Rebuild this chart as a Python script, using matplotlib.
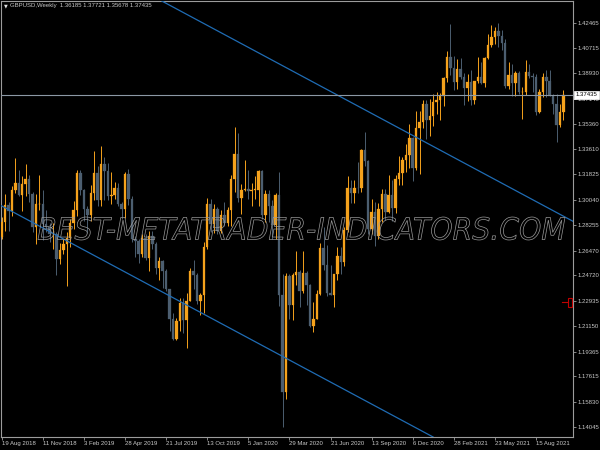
import matplotlib
matplotlib.use("Agg")
import matplotlib.pyplot as plt
from matplotlib.patches import PathPatch, Rectangle
from matplotlib.textpath import TextPath
from matplotlib.font_manager import FontProperties
from matplotlib.transforms import Affine2D, blended_transform_factory

# --- GBPUSD weekly, 19 Aug 2018 .. 10 Oct 2021 ------------------------------
OPEN = [
    1.2745, 1.2850, 1.2966, 1.2925, 1.3070, 1.3120, 1.3040, 1.3118, 1.3152, 1.3042,
    1.2811, 1.2971, 1.2973, 1.2836, 1.2809, 1.2760, 1.2765, 1.2585, 1.2650, 1.2690,
    1.2737, 1.2840, 1.2930, 1.3194, 1.3075, 1.2942, 1.2896, 1.3048, 1.3195, 1.3004,
    1.3258, 1.3204, 1.3032, 1.3035, 1.3088, 1.2975, 1.2938, 1.3183, 1.3007, 1.2725,
    1.2716, 1.2622, 1.2735, 1.2596, 1.2746, 1.2693, 1.2523, 1.2573, 1.2502, 1.2376,
    1.2164, 1.2026, 1.2154, 1.2280, 1.2158, 1.2290, 1.2502, 1.2475, 1.2290, 1.2333,
    1.2670, 1.2975, 1.2834, 1.2940, 1.2782, 1.2898, 1.2839, 1.2935, 1.3149, 1.3325,
    1.3014, 1.3074, 1.3083, 1.3066, 1.3074, 1.3076, 1.3204, 1.2897, 1.3045, 1.2960,
    1.2823, 1.3040, 1.2334, 1.1650, 1.2469, 1.2263, 1.2478, 1.2495, 1.2366, 1.2492,
    1.2403, 1.2118, 1.2164, 1.2344, 1.2667, 1.2544, 1.2345, 1.2337, 1.2481, 1.2612,
    1.2565, 1.2794, 1.3086, 1.3053, 1.3088, 1.3086, 1.3354, 1.3277, 1.2797, 1.2918,
    1.2747, 1.2940, 1.3047, 1.2917, 1.3036, 1.2944, 1.3152, 1.3190, 1.3283, 1.3322,
    1.3438, 1.3224, 1.3506, 1.3551, 1.3675, 1.3565, 1.3595, 1.3688, 1.3703, 1.3735,
    1.3858, 1.4008, 1.3927, 1.3831, 1.3924, 1.3865, 1.3790, 1.3833, 1.3707, 1.3836,
    1.3868, 1.3827, 1.3999, 1.4093, 1.4150, 1.4192, 1.4157, 1.4109, 1.3801, 1.3880,
    1.3823, 1.3892, 1.3760, 1.3762, 1.3902, 1.3876, 1.3869, 1.3620, 1.3761, 1.3866,
    1.3841, 1.3735, 1.3675, 1.3530, 1.36185,
]
HIGH = [
    1.2880, 1.3043, 1.2985, 1.3100, 1.3298, 1.3215, 1.3170, 1.3257, 1.3175, 1.3060,
    1.3042, 1.3176, 1.3074, 1.2930, 1.2840, 1.2840, 1.2780, 1.2700, 1.2730, 1.2780,
    1.2867, 1.2993, 1.3216, 1.3216, 1.3080, 1.2960, 1.3109, 1.3350, 1.3240, 1.3381,
    1.3305, 1.3262, 1.3197, 1.3132, 1.3120, 1.2990, 1.3200, 1.3220, 1.3030, 1.2750,
    1.2730, 1.2763, 1.2763, 1.2784, 1.2784, 1.2710, 1.2600, 1.2580, 1.2520, 1.2380,
    1.2206, 1.2175, 1.2310, 1.2311, 1.2349, 1.2526, 1.2582, 1.2490, 1.2350, 1.2708,
    1.3013, 1.3012, 1.2976, 1.2955, 1.2930, 1.2985, 1.2954, 1.3177, 1.3514, 1.3475,
    1.3115, 1.3284, 1.3215, 1.3119, 1.3173, 1.3215, 1.3210, 1.3070, 1.3070, 1.3000,
    1.3050, 1.3200, 1.2485, 1.2486, 1.2485, 1.2487, 1.2647, 1.2510, 1.2643, 1.2500,
    1.2415, 1.2283, 1.2373, 1.2697, 1.2813, 1.2688, 1.2542, 1.2485, 1.2669, 1.2670,
    1.2810, 1.3170, 1.3143, 1.3143, 1.3267, 1.3363, 1.3482, 1.3280, 1.3007, 1.2990,
    1.2983, 1.3083, 1.3082, 1.3177, 1.3140, 1.3177, 1.3313, 1.3308, 1.3398, 1.3540,
    1.3444, 1.3625, 1.3625, 1.3704, 1.3704, 1.3712, 1.3745, 1.3758, 1.3756, 1.3866,
    1.4050, 1.4241, 1.4015, 1.3990, 1.4000, 1.3895, 1.3890, 1.3919, 1.3840, 1.4009,
    1.3975, 1.4006, 1.4167, 1.4234, 1.4219, 1.4250, 1.4200, 1.4135, 1.3975, 1.3960,
    1.3910, 1.3909, 1.3797, 1.3984, 1.3958, 1.3896, 1.3890, 1.3785, 1.3892, 1.3913,
    1.3913, 1.3750, 1.3749, 1.3674, 1.37721,
]
LOW = [
    1.2726, 1.2785, 1.2786, 1.2887, 1.3050, 1.3030, 1.2922, 1.3030, 1.2985, 1.2780,
    1.2696, 1.2934, 1.2723, 1.2776, 1.2706, 1.2659, 1.2477, 1.2550, 1.2620, 1.2395,
    1.2670, 1.2800, 1.2890, 1.3040, 1.2852, 1.2773, 1.2855, 1.3005, 1.2961, 1.2960,
    1.3005, 1.3004, 1.2977, 1.3010, 1.2957, 1.2866, 1.2875, 1.2970, 1.2710, 1.2605,
    1.2558, 1.2600, 1.2580, 1.2506, 1.2658, 1.2480, 1.2439, 1.2382, 1.2360, 1.2080,
    1.2015, 1.2015, 1.2080, 1.2070, 1.1959, 1.2290, 1.2380, 1.2270, 1.2195, 1.2205,
    1.2660, 1.2780, 1.2770, 1.2765, 1.2768, 1.2820, 1.2820, 1.2820, 1.3060, 1.2985,
    1.2905, 1.3068, 1.3012, 1.2960, 1.3010, 1.2960, 1.2870, 1.2850, 1.2848, 1.2725,
    1.2725, 1.2260, 1.1409, 1.1600, 1.2167, 1.2160, 1.2405, 1.2247, 1.2350, 1.2266,
    1.2110, 1.2075, 1.2163, 1.2335, 1.2510, 1.2330, 1.2333, 1.2252, 1.2440, 1.2480,
    1.2540, 1.2780, 1.2982, 1.2981, 1.3050, 1.3060, 1.3240, 1.2762, 1.2764, 1.2676,
    1.2730, 1.2845, 1.2864, 1.2914, 1.2854, 1.2914, 1.3105, 1.3110, 1.3197, 1.3225,
    1.3134, 1.3215, 1.3188, 1.3510, 1.3429, 1.3450, 1.3520, 1.3610, 1.3566, 1.3660,
    1.3835, 1.3880, 1.3775, 1.3780, 1.3850, 1.3670, 1.3700, 1.3670, 1.3680, 1.3825,
    1.3820, 1.3800, 1.3990, 1.4080, 1.4100, 1.4080, 1.4060, 1.3787, 1.3786, 1.3733,
    1.3731, 1.3748, 1.3572, 1.3740, 1.3860, 1.3760, 1.3602, 1.3615, 1.3727, 1.3727,
    1.3730, 1.3609, 1.3412, 1.3512, 1.35678,
]
CLOSE = [
    1.2850, 1.2966, 1.2925, 1.3070, 1.3120, 1.3040, 1.3118, 1.3152, 1.3042, 1.2811,
    1.2971, 1.2973, 1.2836, 1.2809, 1.2760, 1.2765, 1.2585, 1.2650, 1.2690, 1.2737,
    1.2840, 1.2930, 1.3194, 1.3075, 1.2942, 1.2896, 1.3048, 1.3195, 1.3004, 1.3258,
    1.3204, 1.3032, 1.3035, 1.3088, 1.2975, 1.2938, 1.3183, 1.3007, 1.2725, 1.2716,
    1.2622, 1.2735, 1.2596, 1.2746, 1.2693, 1.2523, 1.2573, 1.2502, 1.2376, 1.2164,
    1.2026, 1.2154, 1.2280, 1.2158, 1.2290, 1.2502, 1.2475, 1.2290, 1.2333, 1.2670,
    1.2975, 1.2834, 1.2940, 1.2782, 1.2898, 1.2839, 1.2935, 1.3149, 1.3325, 1.3014,
    1.3074, 1.3083, 1.3066, 1.3074, 1.3076, 1.3204, 1.2897, 1.3045, 1.2960, 1.2823,
    1.3040, 1.2334, 1.1650, 1.2469, 1.2263, 1.2478, 1.2495, 1.2366, 1.2492, 1.2403,
    1.2118, 1.2164, 1.2344, 1.2667, 1.2544, 1.2345, 1.2337, 1.2481, 1.2612, 1.2565,
    1.2794, 1.3086, 1.3053, 1.3088, 1.3086, 1.3354, 1.3277, 1.2797, 1.2918, 1.2747,
    1.2940, 1.3047, 1.2917, 1.3036, 1.2944, 1.3152, 1.3190, 1.3283, 1.3322, 1.3438,
    1.3224, 1.3506, 1.3551, 1.3675, 1.3565, 1.3595, 1.3688, 1.3703, 1.3735, 1.3858,
    1.4008, 1.3927, 1.3831, 1.3924, 1.3865, 1.3790, 1.3833, 1.3707, 1.3836, 1.3868,
    1.3827, 1.3999, 1.4093, 1.4150, 1.4192, 1.4157, 1.4109, 1.3801, 1.3880, 1.3823,
    1.3892, 1.3760, 1.3762, 1.3902, 1.3876, 1.3869, 1.3620, 1.3761, 1.3866, 1.3841,
    1.3735, 1.3675, 1.3530, 1.36185, 1.37435,
]

DATE_POS = [0, 12, 24, 36, 48, 60, 72, 84, 96, 108, 120, 132, 144, 156]
DATE_LABELS = ["19 Aug 2018", "11 Nov 2018", "3 Feb 2019", "28 Apr 2019", "21 Jul 2019",
               "13 Oct 2019", "5 Jan 2020", "29 Mar 2020", "21 Jun 2020", "13 Sep 2020",
               "6 Dec 2020", "28 Feb 2021", "23 May 2021", "15 Aug 2021"]
PRICE_TICKS = [1.42465, 1.40715, 1.38930, 1.37145, 1.35360, 1.33610, 1.31825, 1.30040,
               1.28255, 1.26470, 1.24720, 1.22935, 1.21150, 1.19365, 1.17615, 1.15830,
               1.14045]

# channel trendlines: two anchors each (bar index, price)
UPPER_LINE = [(47.0, 1.43979), (166.8, 1.28524)]
LOWER_LINE = [(-0.5, 1.29670), (126.5, 1.13290)]
LAST_PRICE = 1.37435
TITLE = "GBPUSD,Weekly  1.36185 1.37721 1.35678 1.37435"
WATERMARK = "BEST-METATRADER-INDICATORS.COM"

BG = "#000000"
BULL = "#f5a21c"
BEAR = "#4c5e70"
FRAME = "#9c9c9c"
TXT = "#c8c8c8"
CHANNEL = "#1f6cb4"
FONT = ["Liberation Sans", "DejaVu Sans"]

W, H = 600, 450


def px(x, y):
    """pixel (from top-left) -> figure fraction"""
    return x / W, 1 - y / H


fig = plt.figure(figsize=(6, 4.5), dpi=100)
fig.patch.set_facecolor(BG)
ax = fig.add_axes([1 / W, 13 / H, 572 / W, 436 / H])
ax.set_facecolor(BG)
ax.set_xlim(-0.204, 166.8)
ax.set_ylim(1.13361, 1.44012)

# candles
idx = list(range(len(CLOSE)))
cols = [BULL if c >= o else BEAR for o, c in zip(OPEN, CLOSE)]
ax.vlines(idx, LOW, HIGH, colors=cols, lw=0.7, zorder=2)
bottoms = [min(o, c) for o, c in zip(OPEN, CLOSE)]
heights = [max(abs(c - o), 0.0003) for o, c in zip(OPEN, CLOSE)]
ax.bar(idx, heights, bottom=bottoms, width=0.72, color=cols, edgecolor=cols,
       lw=0.2, zorder=3)

# channel + last price line
for (a, b) in (UPPER_LINE, LOWER_LINE):
    ax.axline(a, b, color=CHANNEL, lw=0.9, zorder=4)
ax.axhline(LAST_PRICE, color="#8c98a4", lw=0.8, zorder=4)

# axes, ticks
for s in ax.spines.values():
    s.set_color(FRAME)
    s.set_linewidth(0.8)
ax.yaxis.tick_right()
ax.set_yticks(PRICE_TICKS)
ax.set_yticklabels([f"{p:.5f}" for p in PRICE_TICKS])
ax.set_xticks(DATE_POS)
ax.set_xticklabels(DATE_LABELS)
ax.tick_params(colors=FRAME, labelcolor=TXT, labelsize=4.3, length=2.2, width=0.6,
               pad=1.0)
for lab in ax.get_xticklabels():
    lab.set_horizontalalignment("left")
    lab.set_family(FONT)
for lab in ax.get_yticklabels():
    lab.set_family(FONT)

# current price tag on the scale
tr = blended_transform_factory(ax.transAxes, ax.transData)
ax.text(1.004, LAST_PRICE, "1.37435", transform=tr, ha="left", va="center",
        fontsize=4.3, family=FONT, color="#000000", clip_on=False, zorder=6,
        bbox=dict(boxstyle="square,pad=0.25", fc="#ffffff", ec="#ffffff", lw=0.5))

# small red level marker at the right edge
ax.add_patch(Rectangle((165.2, 1.2250), 1.3, 0.0064, fc="none", ec="#c00000", lw=0.8,
                       zorder=6, clip_on=False))
ax.plot([163.7, 165.2], [1.2282, 1.2282], color="#c00000", lw=0.8, zorder=6)

# header
fig.text(*px(4, 6), "\u25bc", color="#e0e0e0", fontsize=3.5, ha="left", va="center",
         family=["DejaVu Sans"])
fig.text(*px(10, 6), TITLE, color=TXT, fontsize=4.3, ha="left", va="center", family=FONT)

# hollow watermark
tp = TextPath((0, 0), WATERMARK, size=1,
              prop=FontProperties(family="DejaVu Sans", style="oblique", weight="normal"))
bb = tp.get_extents()
wm_tr = (Affine2D().translate(-bb.x0, -bb.y0)
         .scale((565 - 38) / bb.width / W, (240 - 217) / bb.height / H)
         .translate(38 / W, 1 - 240 / H) + fig.transFigure)
fig.add_artist(PathPatch(tp, transform=wm_tr, fc="none", ec="#9a9a9a", lw=0.5,
                         zorder=10))

fig.savefig("out.png", dpi=100, facecolor=BG)
